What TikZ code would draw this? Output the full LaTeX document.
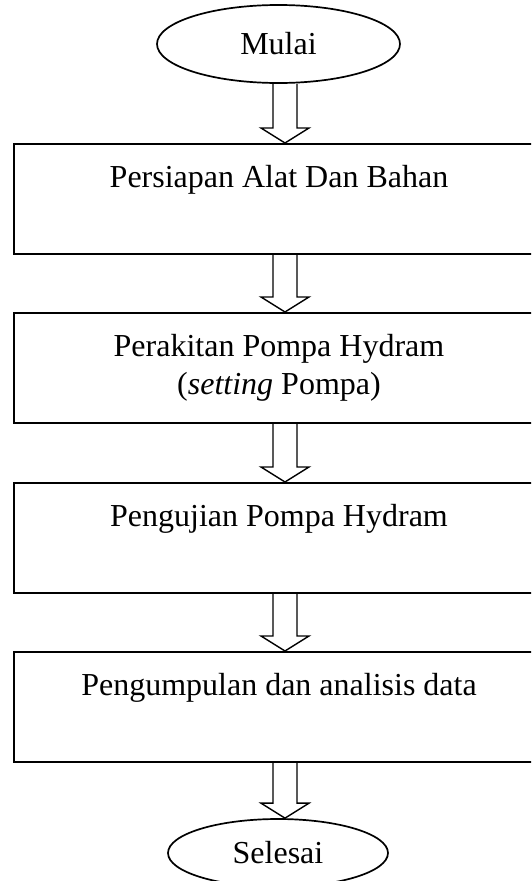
\documentclass[tikz,border=0pt]{standalone}
\usepackage{fontspec}
\setmainfont{Liberation Serif}
\usetikzlibrary{shapes.geometric,calc}
\tikzset{
  procbox/.style={draw, line width=1.7pt, rectangle, anchor=north,
    minimum width=530pt, text width=500pt, align=flush center,
    inner xsep=0pt, inner ysep=0pt, text height=44pt, text depth=66pt,
    font=\fontsize{32}{38}\selectfont},
  term/.style={draw, line width=1.7pt, ellipse, inner sep=0pt,
    font=\fontsize{32}{38}\selectfont},
  blockarrow/.style={draw, line width=1.4pt, line join=miter}
}
\newcommand{\blockarr}[2]{%
  \draw[blockarrow] ($(#1.south -| ax)+(-12,0)$)
    -- ($(#2.north -| ax)+(-12,-15)$) -- ($(#2.north -| ax)+(-24,-15)$)
    -- (#2.north -| ax)
    -- ($(#2.north -| ax)+(24,-15)$) -- ($(#2.north -| ax)+(12,-15)$)
    -- ($(#1.south -| ax)+(12,0)$);}
\begin{document}
\begin{tikzpicture}[x=1pt,y=-1pt]
  \useasboundingbox (0,0) rectangle (531,881);
  \clip (0,0) rectangle (531,881);
  \coordinate (ax) at (285,0);
  \node[term, minimum width=243pt, minimum height=78pt] (start) at (278.5,44) {Mulai};
  \node[procbox] (b1) at (279,143) {Persiapan Alat Dan Bahan};
  \node[procbox] (b2) at (279,312) {Perakitan Pompa Hydram\\(\textit{setting} Pompa)};
  \node[procbox] (b3) at (279,482) {Pengujian Pompa Hydram};
  \node[procbox] (b4) at (279,651) {Pengumpulan dan analisis data};
  \node[term, minimum width=220pt, minimum height=68pt] (stop) at (278,853) {Selesai};
  \blockarr{start}{b1}
  \blockarr{b1}{b2}
  \blockarr{b2}{b3}
  \blockarr{b3}{b4}
  \blockarr{b4}{stop}
\end{tikzpicture}
\end{document}
